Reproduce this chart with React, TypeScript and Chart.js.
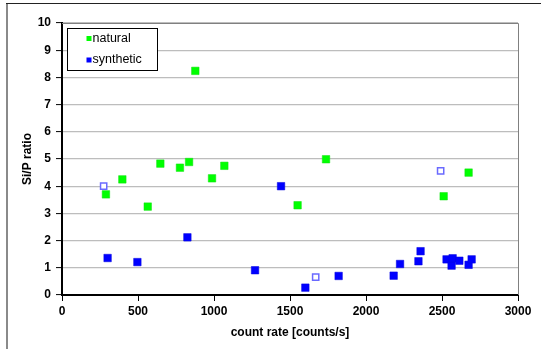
import React, { useEffect, useRef } from "react";
import { Chart, registerables } from "chart.js";

Chart.register(...registerables);

const naturalX = [289, 397, 564, 647, 776, 836, 877, 987, 1068, 1550, 1737, 2511, 2675];
const naturalY = [3.7, 4.25, 3.25, 4.83, 4.68, 4.89, 8.24, 4.29, 4.75, 3.3, 4.99, 3.63, 4.5];

const syntheticX = [300, 496, 825, 1270, 1441, 1601, 1820, 2182, 2224, 2345, 2359, 2530, 2563, 2570, 2614, 2675, 2695];
const syntheticY = [1.36, 1.21, 2.12, 0.91, 4.0, 0.27, 0.7, 0.71, 1.14, 1.24, 1.61, 1.31, 1.08, 1.35, 1.26, 1.11, 1.31];

const openX = [274, 1669, 2491];
const openY = [4.0, 0.66, 4.56];

const legendLabels = ["natural", "synthetic"];
const xTitle = "count rate [counts/s]";
const yTitle = "Si/P ratio";

const FONT = "'Liberation Sans', Arial, sans-serif";
const GREEN = "#00ff00";
const BLUE = "#0000ff";

const toPoints = (xs: number[], ys: number[]) => xs.map((x, i) => ({ x, y: ys[i] }));

const framePlugin = {
  id: "frame",
  beforeDraw(chart: any) {
    const ctx = chart.ctx;
    ctx.save();
    ctx.fillStyle = "#ffffff";
    ctx.fillRect(0, 0, chart.width, chart.height);
    ctx.strokeStyle = "#8a8a8a";
    ctx.lineWidth = 2;
    ctx.beginPath();
    ctx.moveTo(7, chart.height + 2);
    ctx.lineTo(7, 3);
    ctx.stroke();
    ctx.strokeStyle = "#222222";
    ctx.lineWidth = 1;
    ctx.beginPath();
    ctx.moveTo(6, 3.5);
    ctx.lineTo(chart.width + 2, 3.5);
    ctx.stroke();
    ctx.restore();
  },
  beforeDatasetsDraw(chart: any) {
    const { ctx, chartArea } = chart;
    ctx.save();
    ctx.strokeStyle = "#808080";
    ctx.lineWidth = 1;
    ctx.beginPath();
    ctx.moveTo(chartArea.left, chartArea.top + 0.5);
    ctx.lineTo(chartArea.right + 0.5, chartArea.top + 0.5);
    ctx.lineTo(chartArea.right + 0.5, chartArea.bottom);
    ctx.stroke();
    ctx.restore();
  },
  afterDraw(chart: any) {
    const { ctx, chartArea } = chart;
    const bx = chartArea.left + 5.5;
    const by = chartArea.top + 5.5;
    const bw = 90;
    const bh = 42;
    ctx.save();
    ctx.fillStyle = "#ffffff";
    ctx.fillRect(bx, by, bw, bh);
    ctx.strokeStyle = "#000000";
    ctx.lineWidth = 1;
    ctx.strokeRect(bx, by, bw, bh);
    const colors = [GREEN, BLUE];
    ctx.font = `12.5px ${FONT}`;
    ctx.textBaseline = "middle";
    ctx.textAlign = "left";
    legendLabels.forEach((label, i) => {
      const cy = by + 10 + i * 21.5;
      ctx.fillStyle = colors[i];
      ctx.fillRect(bx + 19, cy - 2.5, 5, 5);
      ctx.fillStyle = "#000000";
      ctx.fillText(label, bx + 25, cy);
    });
    ctx.restore();
  },
};

export default function App() {
  const ref = useRef<HTMLCanvasElement | null>(null);

  useEffect(() => {
    if (!ref.current) return;
    const chart = new Chart(ref.current, {
      type: "scatter",
      data: {
        datasets: [
          {
            label: legendLabels[0],
            data: toPoints(naturalX, naturalY),
            pointStyle: "rect",
            pointRadius: 5.3,
            pointBackgroundColor: GREEN,
            pointBorderColor: "#10e010",
            pointBorderWidth: 0.5,
            order: 2,
          },
          {
            label: legendLabels[1],
            data: toPoints(syntheticX, syntheticY),
            pointStyle: "rect",
            pointRadius: 5.3,
            pointBackgroundColor: BLUE,
            pointBorderColor: "#0000e0",
            pointBorderWidth: 0.5,
            order: 1,
          },
          {
            label: "synthetic (open)",
            data: toPoints(openX, openY),
            pointStyle: "rect",
            pointRadius: 4.4,
            pointBackgroundColor: "#ffffff",
            pointBorderColor: "#6a6aff",
            pointBorderWidth: 1.5,
            order: 0,
          },
        ],
      },
      options: {
        responsive: false,
        animation: false,
        devicePixelRatio: 1,
        layout: { padding: { left: 0, top: 23, right: 23, bottom: 0 } },
        plugins: {
          legend: { display: false },
          tooltip: { enabled: false },
        },
        scales: {
          x: {
            type: "linear",
            min: 0,
            max: 3000,
            ticks: {
              stepSize: 500,
              color: "#000000",
              font: { family: FONT, size: 12, weight: "bold" },
              padding: 3,
              maxRotation: 0,
              callback: (v: any) => String(v),
            },
            grid: {
              drawOnChartArea: false,
              tickLength: 6,
              tickColor: "#000000",
              tickWidth: 1,
            },
            border: { color: "#000000", width: 2 },
            title: {
              display: true,
              text: xTitle,
              color: "#000000",
              font: { family: FONT, size: 12, weight: "bold" },
              padding: { top: 0, bottom: 9 },
            },
            afterFit(scale: any) {
              scale.height = 54;
            },
          },
          y: {
            type: "linear",
            min: 0,
            max: 10,
            ticks: {
              stepSize: 1,
              color: "#000000",
              font: { family: FONT, size: 12, weight: "bold" },
              padding: 5,
              callback: (v: any) => String(v),
            },
            grid: {
              color: "#bdbdbd",
              lineWidth: 1.2,
              tickLength: 6,
              tickColor: "#000000",
              tickWidth: 1,
            },
            border: { color: "#000000", width: 2 },
            title: {
              display: true,
              text: yTitle,
              color: "#000000",
              font: { family: FONT, size: 12, weight: "bold" },
              padding: { top: 20, bottom: 0 },
            },
            afterFit(scale: any) {
              scale.width = 62;
            },
          },
        },
      },
      plugins: [framePlugin],
    });
    return () => chart.destroy();
  }, []);

  return (
    <div style={{ position: "fixed", left: 0, top: 0, width: 541, height: 349, overflow: "hidden", background: "#fff" }}>
      <canvas ref={ref} width={541} height={349} style={{ width: 541, height: 349, display: "block" }} />
    </div>
  );
}
